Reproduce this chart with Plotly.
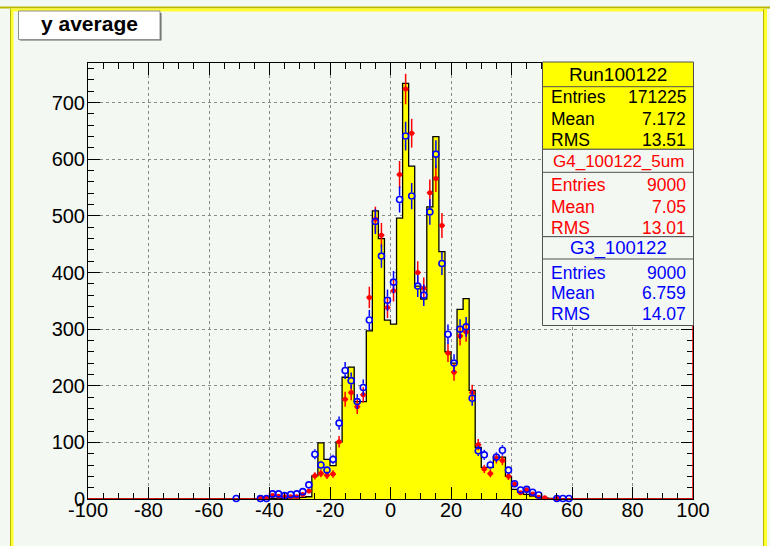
import numpy as np
import plotly.graph_objects as go

# ---- histogram binning: 100 bins of width 2 on [-100, 100]
x_lo, x_hi, n_bins = -100.0, 100.0, 100
y_lo, y_hi = 0.0, 770.0

# Run100122 (normalised to the simulated samples), filled yellow histogram
run_centers = [-39, -37, -35, -33, -31, -29, -27, -25, -23, -21, -19, -17, -15, -13,
               -11, -9, -7, -5, -3, -1, 1, 3, 5, 7, 9, 11, 13, 15, 17, 19, 21, 23,
               25, 27, 29, 31, 33, 35, 37, 39, 41, 43, 45, 47, 49, 51, 53, 55]
run_values = [1, 1, 1, 2, 2, 3, 4, 41, 99, 70, 59, 101, 215, 233,
              172, 172, 297, 509, 460, 316, 309, 496, 734, 588, 376, 353, 516, 640, 437, 260, 240, 335,
              354, 192, 91, 56, 56, 74, 74, 40, 17, 12, 8, 5, 3, 2, 1, 1]

# G4_100122_5um (red points)
g4_centers = [-43, -41, -39, -37, -35, -33, -31, -29, -27, -25, -23, -21, -19, -17,
              -15, -13, -11, -9, -7, -5, -3, -1, 1, 3, 5, 7, 9, 11, 13, 15, 17, 19,
              21, 23, 25, 27, 29, 31, 33, 35, 37, 39, 41, 43, 45, 47, 49, 51, 55]
g4_values = [2, 2, 6, 5, 4, 4, 4, 8, 14, 41, 45, 42, 44, 101,
             176, 188, 163, 184, 356, 494, 466, 338, 368, 573, 724, 646, 400, 372, 541, 566, 483, 258,
             224, 288, 295, 188, 96, 53, 45, 71, 68, 40, 26, 11, 16, 9, 3, 2, 1]

# G3_100122 (blue points)
g3_centers = [-51, -43, -41, -39, -37, -35, -33, -31, -29, -27, -25, -23, -21, -19, -17,
              -15, -13, -11, -9, -7, -5, -3, -1, 1, 3, 5, 7, 9, 11, 13, 15, 17, 19,
              21, 23, 25, 27, 29, 31, 33, 35, 37, 39, 41, 43, 45, 47, 49, 55, 57, 59]
g3_values = [1, 1, 1, 9, 9, 6, 8, 9, 13, 25, 79, 60, 51, 70, 134,
             227, 209, 172, 197, 316, 490, 429, 351, 383, 529, 641, 535, 376, 360, 507, 609, 416, 291,
             240, 300, 304, 178, 85, 78, 60, 74, 86, 51, 27, 16, 17, 12, 7, 1, 1, 1]

# axis tick labels
x_ticks = [-100, -80, -60, -40, -20, 0, 20, 40, 60, 80, 100]
x_tick_text = [str(v) for v in x_ticks]

# statistics boxes
stat_titles = ["Run100122", "G4_100122_5um", "G3_100122"]
stat_labels = ["Entries", "Mean", "RMS"]
stat_values = [["171225", "7.172", "13.51"],
               ["9000", "7.05", "13.01"],
               ["9000", "6.759", "14.07"]]
stat_colors = ["#000000", "#ff0000", "#0000ff"]

# ---- helpers -------------------------------------------------------------
edges = np.linspace(x_lo, x_hi, n_bins + 1)
width = edges[1] - edges[0]
centers_all = 0.5 * (edges[:-1] + edges[1:])


def fill_bins(cs, vs):
    full = np.zeros(n_bins)
    for c, v in zip(cs, vs):
        full[int(round((c - x_lo) / width - 0.5))] = v
    return full


run_full = fill_bins(run_centers, run_values)
g4_full = fill_bins(g4_centers, g4_values)
g3_full = fill_bins(g3_centers, g3_values)

W, H = 770, 546
L, R, T, B = 88, 693, 63, 499     # frame in pixels
FONT = "Liberation Sans, Arial, Helvetica, sans-serif"
BG = "#f4f8f3"


def px(x):
    return (x - L) / (R - L)


def py(y):
    return (B - y) / (B - T)


fig = go.Figure()

# filled histogram
fig.add_trace(go.Scatter(
    x=list(edges), y=list(run_full) + [run_full[-1]],
    mode="lines", line=dict(shape="hv", color="black", width=1.3),
    fill="tozeroy", fillcolor="#ffff00", hoverinfo="skip", showlegend=False))

# red horizontal error bars of empty G4 bins along zero
zx, zy = [], []
for i in range(n_bins):
    if g4_full[i] == 0:
        zx += [edges[i], edges[i + 1], None]
        zy += [0, 0, None]
fig.add_trace(go.Scatter(x=zx, y=zy, mode="lines", line=dict(color="#ff0000", width=1.5),
                         hoverinfo="skip", showlegend=False, cliponaxis=False))

# G4 points
m4 = g4_full > 0
fig.add_trace(go.Scatter(
    x=centers_all[m4], y=g4_full[m4], mode="markers",
    marker=dict(symbol="circle", size=5, color="#ff0000"),
    error_y=dict(type="data", array=np.sqrt(g4_full[m4]), color="#ff0000", thickness=1.5, width=0),
    error_x=dict(type="constant", value=width / 2, color="#ff0000", thickness=1.5, width=0),
    showlegend=False, cliponaxis=False))

# G3 points: error bars stop at the edge of the open marker
blue_size = 6
blue_r_px = blue_size / 2 + 0.8
gap_y = blue_r_px * (y_hi - y_lo) / (B - T)
gap_x = blue_r_px * (x_hi - x_lo) / (R - L)
m3 = g3_full > 0
ex, ey = [], []
for c, v in zip(centers_all[m3], g3_full[m3]):
    e = np.sqrt(v)
    if e > gap_y:
        ex += [c, c, None, c, c, None]
        ey += [v + gap_y, v + e, None, v - gap_y, max(v - e, 0), None]
    if width / 2 > gap_x:
        ex += [c - width / 2, c - gap_x, None, c + gap_x, c + width / 2, None]
        ey += [v, v, None, v, v, None]
fig.add_trace(go.Scatter(x=ex, y=ey, mode="lines", line=dict(color="#0000ff", width=1.5),
                         hoverinfo="skip", showlegend=False, cliponaxis=False))
fig.add_trace(go.Scatter(
    x=centers_all[m3], y=g3_full[m3], mode="markers",
    marker=dict(symbol="circle-open", size=blue_size, color="#0000ff",
                line=dict(width=1.6, color="#0000ff")),
    showlegend=False, cliponaxis=False))

axis_common = dict(
    ticks="inside", ticklen=12, tickwidth=1, tickcolor="black",
    showline=True, linecolor="black", linewidth=1, mirror="ticks",
    showgrid=True, gridcolor="#8a8a8a", griddash="dot", gridwidth=1,
    zeroline=False, tickfont=dict(family=FONT, size=20, color="black"),
)

fig.update_xaxes(range=[x_lo, x_hi], tickmode="array", tickvals=x_ticks, ticktext=x_tick_text,
                 minor=dict(dtick=5, tick0=0, ticklen=6, ticks="inside", tickcolor="black", showgrid=False),
                 ticklabelstandoff=-7, **axis_common)
fig.update_yaxes(range=[y_lo, y_hi], tick0=0, dtick=100,
                 minor=dict(dtick=20, ticklen=6, ticks="inside", tickcolor="black", showgrid=False),
                 ticklabelstandoff=-2, **axis_common)

shapes = []
annotations = []

# right frame edge drawn in red
shapes.append(dict(type="line", xref="x", yref="y", x0=x_hi, x1=x_hi, y0=y_lo, y1=y_hi,
                   line=dict(color="#ff0000", width=1.5), layer="above"))

# pad border
shapes.append(dict(type="line", xref="paper", yref="paper", x0=px(0), x1=px(W), y0=py(7.5), y1=py(7.5),
                   line=dict(color="#b8b800", width=2), layer="above"))
shapes.append(dict(type="line", xref="paper", yref="paper", x0=px(11), x1=px(764), y0=py(10), y1=py(10),
                   line=dict(color="#ffff30", width=3), layer="above"))
shapes.append(dict(type="line", xref="paper", yref="paper", x0=px(12), x1=px(12), y0=py(9), y1=py(H + 5),
                   line=dict(color="#ffff30", width=3), layer="above"))
shapes.append(dict(type="line", xref="paper", yref="paper", x0=px(10.5), x1=px(10.5), y0=py(9), y1=py(H + 5),
                   line=dict(color="#b8b800", width=1), layer="above"))
shapes.append(dict(type="line", xref="paper", yref="paper", x0=px(765.5), x1=px(765.5), y0=py(9), y1=py(H + 5),
                   line=dict(color="#ffff30", width=3), layer="above"))
shapes.append(dict(type="line", xref="paper", yref="paper", x0=px(763.5), x1=px(763.5), y0=py(9), y1=py(H + 5),
                   line=dict(color="#b8b800", width=1), layer="above"))

# title box with shadow
shapes.append(dict(type="rect", xref="paper", yref="paper", x0=px(20), x1=px(161.5), y0=py(40.5), y1=py(13),
                   fillcolor="#606060", line=dict(width=0), layer="above"))
shapes.append(dict(type="rect", xref="paper", yref="paper", x0=px(18.5), x1=px(160), y0=py(39.5), y1=py(11),
                   fillcolor="white", line=dict(color="#909090", width=1), layer="above"))
annotations.append(dict(xref="paper", yref="paper", x=px(89), y=py(23), text="<b>y average</b>",
                        showarrow=False, xanchor="center", yanchor="middle",
                        font=dict(family=FONT, size=21, color="black")))

# statistics boxes
bx0, bx1 = 542.5, 693.5
boxes = [(62, 86.7, 149.3, "#ffff00"), (149.3, 172.3, 236.7, BG), (236.7, 259.0, 325.5, BG)]
title_y = [74, 161, 248.3]
title_size = [19, 17, 18.5]
row_y = [[97, 119.5, 140], [185.3, 206.7, 227.5], [272.5, 293.3, 314]]
for k, (y0, ydiv, y1, fc) in enumerate(boxes):
    shapes.append(dict(type="rect", xref="paper", yref="paper", x0=px(bx0), x1=px(bx1), y0=py(y1), y1=py(y0),
                       fillcolor=fc, line=dict(color="#505050", width=1), layer="above"))
    shapes.append(dict(type="line", xref="paper", yref="paper", x0=px(bx0), x1=px(bx1), y0=py(ydiv), y1=py(ydiv),
                       line=dict(color="#505050", width=1), layer="above"))
    annotations.append(dict(xref="paper", yref="paper", x=px((bx0 + bx1) / 2), y=py(title_y[k]),
                            text=stat_titles[k], showarrow=False, xanchor="center", yanchor="middle",
                            font=dict(family=FONT, size=title_size[k], color=stat_colors[k])))
    for j in range(3):
        annotations.append(dict(xref="paper", yref="paper", x=px(549), y=py(row_y[k][j]),
                                text=stat_labels[j], showarrow=False, xanchor="left", yanchor="middle",
                                font=dict(family=FONT, size=17.5, color=stat_colors[k])))
        annotations.append(dict(xref="paper", yref="paper", x=px(687.5), y=py(row_y[k][j]),
                                text=stat_values[k][j], showarrow=False, xanchor="right", yanchor="middle",
                                font=dict(family=FONT, size=17.5, color=stat_colors[k])))

fig.update_layout(
    width=W, height=H,
    margin=dict(l=L, r=W - R, t=T, b=H - B, pad=0),
    paper_bgcolor=BG, plot_bgcolor=BG,
    shapes=shapes, annotations=annotations,
    font=dict(family=FONT),
    showlegend=False,
)

fig.write_html("out.html")
